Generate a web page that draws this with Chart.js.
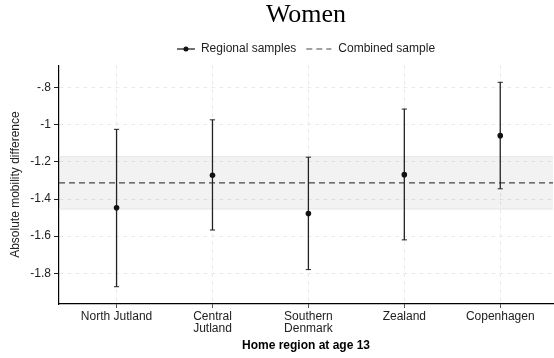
<!DOCTYPE html>
<html>
<head>
<meta charset="utf-8">
<script src="https://cdn.jsdelivr.net/npm/chart.js@4/dist/chart.umd.min.js"></script>
<style>
  html, body { margin: 0; padding: 0; background: #fff; }
  .wrap { width: 554px; height: 358px; position: relative; }
</style>
</head>
<body>
<div class="wrap"><canvas id="c" width="554" height="358"></canvas></div>
<script>
// data
const regions = [['North Jutland'], ['Central', 'Jutland'], ['Southern', 'Denmark'], ['Zealand'], ['Copenhagen']];
const estimates = [-1.447, -1.272, -1.478, -1.269, -1.059];
const lowerCI = [-1.872, -1.567, -1.780, -1.620, -1.345];
const upperCI = [-1.025, -0.974, -1.175, -0.916, -0.772];
const combined = -1.313;
const combinedLow = -1.454;
const combinedHigh = -1.172;
const yTicks = [-0.8, -1, -1.2, -1.4, -1.6, -1.8];
const yTickLabels = ['-.8', '-1', '-1.2', '-1.4', '-1.6', '-1.8'];

const X_MIN = -0.6, X_MAX = 4.55;
const FONT = "'Liberation Sans', Arial, sans-serif";

// whiskers: one line dataset, broken with nulls between regions
const whiskerPts = [];
regions.forEach((r, i) => {
  whiskerPts.push({ x: i, y: lowerCI[i] }, { x: i, y: upperCI[i] }, { x: i, y: null });
});

// legend drawn on the canvas above the plot
const legendPlugin = {
  id: 'topLegend',
  afterDraw(chart) {
    const { ctx, chartArea } = chart;
    ctx.save();
    ctx.font = '12px ' + FONT;
    const t1 = 'Regional samples', t2 = 'Combined sample';
    const sym1 = 18, sym2 = 25;
    const w1 = ctx.measureText(t1).width, w2 = ctx.measureText(t2).width;
    const total = sym1 + 6 + w1 + 10 + sym2 + 7 + w2;
    let x = (chartArea.left + chartArea.right) / 2 - total / 2;
    const y = 49;
    ctx.strokeStyle = '#111';
    ctx.fillStyle = '#111';
    ctx.lineWidth = 1.2;
    ctx.beginPath(); ctx.moveTo(x, y); ctx.lineTo(x + sym1, y); ctx.stroke();
    ctx.beginPath(); ctx.arc(x + sym1 / 2, y, 2.5, 0, Math.PI * 2); ctx.fill();
    x += sym1 + 6;
    ctx.textBaseline = 'middle';
    ctx.fillStyle = '#222';
    ctx.fillText(t1, x, y);
    x += w1 + 10;
    ctx.strokeStyle = '#444';
    ctx.setLineDash([6, 4]);
    ctx.beginPath(); ctx.moveTo(x, y); ctx.lineTo(x + sym2, y); ctx.stroke();
    ctx.setLineDash([]);
    x += sym2 + 7;
    ctx.fillText(t2, x, y);
    ctx.restore();
  }
};

new Chart(document.getElementById('c'), {
  type: 'line',
  data: {
    datasets: [
      {
        label: 'Regional samples',
        data: estimates.map((v, i) => ({ x: i, y: v })),
        showLine: false,
        pointRadius: 2.8,
        pointBackgroundColor: '#111',
        pointBorderColor: '#111',
        pointBorderWidth: 0
      },
      {
        label: 'CI',
        data: whiskerPts,
        borderColor: '#222',
        borderWidth: 1.3,
        spanGaps: false,
        pointStyle: 'line',
        pointRadius: 2.6,
        pointBorderColor: '#222',
        pointBorderWidth: 1
      },
      {
        label: 'Combined sample',
        data: [{ x: X_MIN, y: combined }, { x: X_MAX, y: combined }],
        borderColor: '#444',
        borderWidth: 1.2,
        borderDash: [6, 4],
        pointRadius: 0
      },
      {
        label: 'band top',
        data: [{ x: X_MIN, y: combinedHigh }, { x: X_MAX, y: combinedHigh }],
        borderColor: '#e4e4e4',
        borderWidth: 1,
        pointRadius: 0
      },
      {
        label: 'band bottom',
        data: [{ x: X_MIN, y: combinedLow }, { x: X_MAX, y: combinedLow }],
        borderColor: '#e4e4e4',
        borderWidth: 1,
        pointRadius: 0,
        fill: '-1',
        backgroundColor: 'rgba(0,0,0,0.05)'
      }
    ]
  },
  options: {
    responsive: false,
    animation: false,
    layout: { autoPadding: false, padding: { left: 0, right: 1, top: 0, bottom: 0 } },
    plugins: {
      legend: { display: false },
      tooltip: { enabled: false },
      title: {
        display: true,
        text: 'Women',
        fullSize: false,
        color: '#000',
        font: { family: "'Liberation Serif', 'Times New Roman', serif", size: 26, weight: 'normal' },
        padding: { top: 0, bottom: 34 }
      }
    },
    scales: {
      x: {
        type: 'linear',
        min: X_MIN,
        max: X_MAX,
        afterBuildTicks: s => { s.ticks = regions.map((r, i) => ({ value: i })); },
        afterFit: s => { s.height = 54; s.paddingLeft = 0; s.paddingRight = 0; },
        ticks: {
          autoSkip: false,
          maxRotation: 0,
          padding: 2,
          color: '#222',
          font: { family: FONT, size: 12, lineHeight: 1.05 },
          callback: v => regions[v]
        },
        grid: {
          color: '#e9e9e9',
          lineWidth: 1,
          tickLength: 4,
          tickColor: '#555',
          tickBorderDash: [],
          borderDash: [4, 4]
        },
        border: { display: true, color: '#000', width: 1.2, dash: [4, 4] },
        title: {
          display: true,
          text: 'Home region at age 13',
          color: '#000',
          font: { family: FONT, size: 12, weight: 'bold' },
          padding: { top: 0, bottom: 5 }
        }
      },
      y: {
        min: -1.965,
        max: -0.68,
        afterBuildTicks: s => { s.ticks = yTicks.map(v => ({ value: v })); },
        afterFit: s => { s.width = 59; },
        ticks: {
          padding: 3,
          color: '#222',
          font: { family: FONT, size: 12 },
          callback: (v, i) => yTickLabels[i]
        },
        grid: {
          color: '#e9e9e9',
          lineWidth: 1,
          tickLength: 5,
          tickColor: '#222',
          tickBorderDash: [],
          borderDash: [4, 4]
        },
        border: { display: true, color: '#000', width: 1.2, dash: [4, 4] },
        title: {
          display: true,
          text: 'Absolute mobility difference',
          color: '#222',
          font: { family: FONT, size: 12 },
          padding: { top: 8, bottom: 0 }
        }
      }
    }
  },
  plugins: [legendPlugin]
});
</script>
</body>
</html>
